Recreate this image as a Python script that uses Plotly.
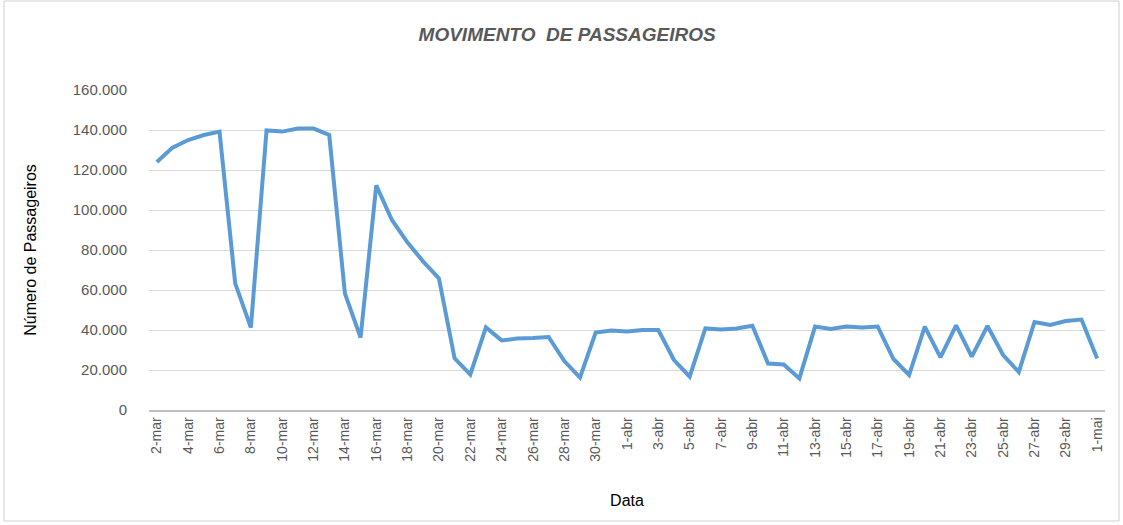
import plotly.graph_objects as go

march_days = [f"{d}-mar" for d in range(2, 32)]
april_days = [f"{d}-abr" for d in range(1, 31)]
may_days = ["1-mai"]
dates = march_days + april_days + may_days

passageiros = [
    124000, 131200, 135000, 137500, 139200, 63300, 41200, 139800, 139200, 140700,
    140700, 137500, 58300, 36200, 112300, 95000, 83700, 74200, 65800, 25800,
    17800, 41300, 34800, 35700, 36000, 36500, 24500, 16200, 38700, 39700,
    39200, 40000, 40000, 25000, 16700, 40800, 40300, 40800, 42100, 23200,
    22800, 15800, 41700, 40500, 41700, 41200, 41700, 25500, 17500, 41700,
    26300, 42300, 26700, 42000, 27500, 19000, 44000, 42500, 44500, 45200,
    25800,
]

tick_labels = dates[::2]
y_ticks = [0, 20000, 40000, 60000, 80000, 100000, 120000, 140000, 160000]

W, H = 1123, 525
L, R, T, B = 149, 18, 90, 115
pw, ph = W - L - R, H - T - B

fig = go.Figure()
fig.add_trace(go.Scatter(
    x=dates, y=passageiros, mode="lines",
    line=dict(color="#5B9BD5", width=4),
    hoverinfo="x+y",
))

fig.update_layout(
    width=W, height=H,
    margin=dict(l=L, r=R, t=T, b=B, autoexpand=False),
    paper_bgcolor="white", plot_bgcolor="white",
    separators=",.",
    showlegend=False,
    title=dict(
        text="<b><i>MOVIMENTO\u00a0 DE PASSAGEIROS</i></b>",
        x=0.505, xanchor="center", y=1 - 34 / H, yanchor="middle",
        font=dict(family="Liberation Sans", size=19, color="#595959"),
    ),
    font=dict(family="Liberation Sans", color="#595959"),
)

fig.update_xaxes(
    type="category",
    range=[-0.5, len(dates) - 0.5],
    tickmode="array", tickvals=tick_labels, ticktext=tick_labels,
    tickangle=-90,
    tickfont=dict(family="Liberation Sans", size=14, color="#595959"),
    showgrid=False,
    showline=True, linecolor="#BFBFBF", linewidth=1.5,
    ticks="", ticklen=0,
    automargin=False,
    title=dict(text="Data", font=dict(family="Liberation Sans", size=16, color="#000000"), standoff=34),
)

fig.update_yaxes(
    range=[0, 160000],
    tickmode="array", tickvals=y_ticks,
    tickformat=",d",
    tickfont=dict(family="Liberation Sans", size=15, color="#595959"),
    showgrid=True, gridcolor="#D9D9D9", gridwidth=1.2,
    zeroline=False,
    showline=False,
    ticks="outside", ticklen=18, tickcolor="rgba(0,0,0,0)",
    automargin=False,
    title=dict(text="Número de Passageiros", font=dict(family="Liberation Sans", size=16, color="#000000"), standoff=32),
)

# chart border
fig.add_shape(
    type="rect", xref="paper", yref="paper",
    x0=(4 - L) / pw, x1=(1119 - L) / pw,
    y0=(H - B - 521) / ph, y1=(H - B - 1) / ph,
    line=dict(color="#D0D0D0", width=1), fillcolor="rgba(0,0,0,0)", layer="below",
)

fig.write_html(
    "out.html",
    config={"displayModeBar": False},
    post_script="document.body.style.margin='0';document.body.style.padding='0';",
)
